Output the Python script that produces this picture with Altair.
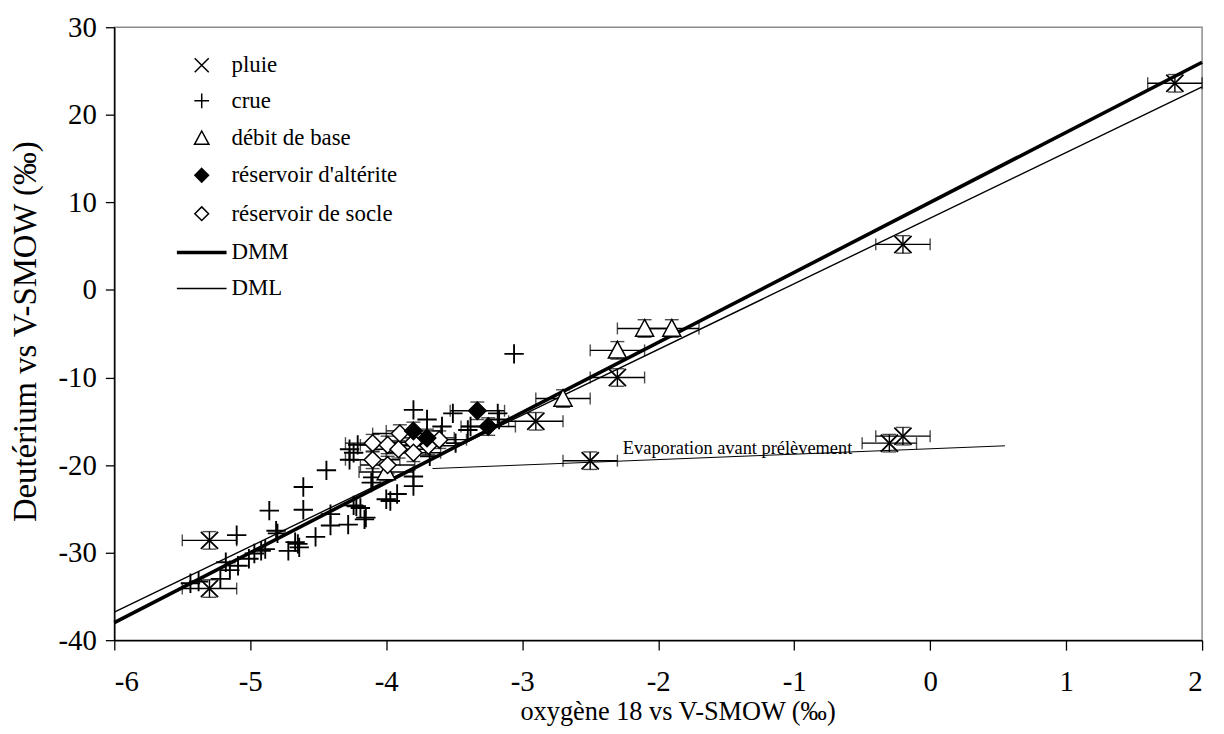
import altair as alt
import pandas as pd

FONT = "Liberation Serif, Times New Roman, serif"

# ---------------- data ----------------
pluie_x = [1.8, -0.2, -0.2, -0.3, -2.5, -2.3, -2.9, -5.3, -5.3]
pluie_y = [23.6, 5.2, -16.7, -17.5, -19.5, -10.0, -15.0, -28.6, -34.1]

crue_x = [-4.44, -4.61, -4.61, -4.86, -5.10, -4.80, -4.41, -4.41, -4.28, -4.22,
          -4.19, -4.15, -4.52, -4.65, -4.64, -4.72, -4.92, -4.97, -5.01, -5.09,
          -5.15, -5.18, -5.22, -5.38, -5.44, -4.81, -4.89, -4.67, -4.16, -4.24,
          -3.97, -4.00, -4.10, -4.27, -4.24, -4.27, -4.21, -3.06, -3.80, -3.70,
          -3.51, -3.38, -3.18, -3.59, -3.80, -3.92, -4.11, -3.80, -3.49, -3.40,
          -3.68, -3.17]
crue_y = [-20.6, -22.5, -25.1, -25.2, -28.0, -27.8, -25.6, -26.9, -26.8, -24.7,
          -24.9, -26.0, -28.2, -29.0, -29.4, -29.8, -29.8, -30.1, -30.7, -31.5,
          -32.0, -31.1, -33.0, -33.3, -33.5, -27.5, -29.6, -28.8, -26.2, -24.6,
          -24.1, -23.9, -21.4, -18.2, -18.6, -19.4, -17.7, -7.3, -13.7, -14.8,
          -14.1, -15.6, -14.1, -15.6, -22.4, -23.3, -22.0, -21.3, -17.5, -16.0,
          -19.0, -14.8]

debit_x = [-2.1, -1.9, -2.3, -2.7, -4.0]
debit_y = [-4.4, -4.4, -6.9, -12.4, -20.8]

alterite_x = [-3.33, -3.25, -3.80, -3.70]
alterite_y = [-13.8, -15.6, -16.1, -16.9]

socle_x = [-4.10, -3.99, -3.90, -3.91, -3.80, -3.80, -3.69, -3.61, -4.10, -3.99]
socle_y = [-17.5, -17.7, -16.4, -18.2, -17.4, -18.6, -17.8, -17.1, -19.4, -20.0]

# error bar half-widths (per mil)
err_x = 0.2
err_y = 1.0

# reference lines
dmm_x = [-6, 2]
dmm_y = [-38, 26]
dml_x = [-6, 2]
dml_y = [-36.8, 23.2]
evap_x = [-3.66, 0.55]
evap_y = [-20.4, -17.8]
evap_label = "Evaporation avant prélèvement"
evap_label_x = [-2.26]
evap_label_y = [-18.7]

legend_labels = ["pluie", "crue", "débit de base", "réservoir d'altérite",
                 "réservoir de socle", "DMM", "DML"]

x_ticks = [-6, -5, -4, -3, -2, -1, 0, 1, 2]
y_ticks = [-40, -30, -20, -10, 0, 10, 20, 30]

x_title = "oxygène 18 vs V-SMOW (‰)"
y_title = "Deutérium vs V-SMOW (‰)"

# ---------------- shapes ----------------
X_SHAPE = "M-1,-1L1,1M-1,1L1,-1"
PLUS_SHAPE = "M-1,0L1,0M0,-1L0,1"
TRI_SHAPE = "M0,-1L1,0.85L-1,0.85Z"
DIA_SHAPE = "M0,-1L1,0L0,1L-1,0Z"

W, H = 1095, 617
xs = alt.Scale(domain=[-6, 2], nice=False, zero=False)
ys = alt.Scale(domain=[-40, 30], nice=False, zero=False)

LBL = "'' + datum.value"

x_axis = alt.Axis(values=x_ticks, grid=False, labelExpr=LBL,
                  labelFont=FONT, labelFontSize=29, labelColor="black",
                  labelPadding=18, tickSize=10, tickColor="black", tickWidth=1.3,
                  domainColor="black", domainWidth=1.5,
                  title=x_title, titleFont=FONT, titleFontSize=26.5,
                  titleFontWeight="normal", titleColor="black",
                  titleX=567, titleY=80, titleAlign="center",
                  titleBaseline="alphabetic", titleAngle=0)
y_axis = alt.Axis(values=y_ticks, grid=False, labelExpr=LBL,
                  labelFont=FONT, labelFontSize=29, labelColor="black",
                  labelPadding=9, tickSize=9, tickColor="black", tickWidth=1.3,
                  domainColor="black", domainWidth=1.5,
                  title=y_title, titleFont=FONT, titleFontSize=33,
                  titleFontWeight="normal", titleColor="black",
                  titleX=-79, titleY=306, titleAlign="center",
                  titleBaseline="alphabetic", titleAngle=270)


def pts(xv, yv):
    return pd.DataFrame({"x": xv, "y": yv})


err_df = pd.concat([pts(pluie_x, pluie_y), pts(debit_x, debit_y),
                    pts(alterite_x, alterite_y), pts(socle_x, socle_y)],
                   ignore_index=True)
err_df["x_lo"] = err_df["x"] - err_x
err_df["x_hi"] = err_df["x"] + err_x
err_df["y_lo"] = err_df["y"] - err_y
err_df["y_hi"] = err_df["y"] + err_y

base_err = alt.Chart(err_df)
hbar = base_err.mark_rule(color="black", strokeWidth=1.4).encode(
    x=alt.X("x_lo:Q", scale=xs, axis=x_axis), x2="x_hi:Q",
    y=alt.Y("y:Q", scale=ys, axis=y_axis))
hcap_l = base_err.mark_tick(orient="vertical", size=12, thickness=1.4, color="black").encode(
    x=alt.X("x_lo:Q", scale=xs), y=alt.Y("y:Q", scale=ys))
hcap_r = base_err.mark_tick(orient="vertical", size=12, thickness=1.4, color="black").encode(
    x=alt.X("x_hi:Q", scale=xs), y=alt.Y("y:Q", scale=ys))
vbar = base_err.mark_rule(color="black", strokeWidth=1.4).encode(
    x=alt.X("x:Q", scale=xs), y=alt.Y("y_lo:Q", scale=ys), y2="y_hi:Q")
vcap_b = base_err.mark_tick(orient="horizontal", size=14, thickness=1.4, color="black").encode(
    x=alt.X("x:Q", scale=xs), y=alt.Y("y_lo:Q", scale=ys))
vcap_t = base_err.mark_tick(orient="horizontal", size=14, thickness=1.4, color="black").encode(
    x=alt.X("x:Q", scale=xs), y=alt.Y("y_hi:Q", scale=ys))


def line(xv, yv, w):
    return alt.Chart(pts(xv, yv)).mark_line(color="black", strokeWidth=w).encode(
        x=alt.X("x:Q", scale=xs), y=alt.Y("y:Q", scale=ys))


dmm = line(dmm_x, dmm_y, 3.6)
dml = line(dml_x, dml_y, 1.4)
evap = line(evap_x, evap_y, 1.0)

evap_text = alt.Chart(pd.DataFrame({"x": evap_label_x, "y": evap_label_y,
                                    "t": [evap_label]})).mark_text(
    font=FONT, fontSize=18.5, align="left", baseline="alphabetic", color="black").encode(
    x=alt.X("x:Q", scale=xs), y=alt.Y("y:Q", scale=ys), text="t:N")


def marks(xv, yv, shape, size, fill, sw=1.5):
    kw = dict(shape=shape, size=size, stroke="black", strokeWidth=sw, opacity=1)
    if fill is None:
        kw.update(filled=False, fillOpacity=0)
    else:
        kw.update(filled=True, fill=fill, fillOpacity=1)
    return alt.Chart(pts(xv, yv)).mark_point(**kw).encode(
        x=alt.X("x:Q", scale=xs), y=alt.Y("y:Q", scale=ys))


m_crue = marks(crue_x, crue_y, PLUS_SHAPE, 380, None, 1.9)
m_pluie = marks(pluie_x, pluie_y, X_SHAPE, 300, None, 1.8)
m_debit = marks(debit_x, debit_y, TRI_SHAPE, 330, "white", 1.5)
m_socle = marks(socle_x, socle_y, DIA_SHAPE, 290, "white", 1.5)
m_alt = marks(alterite_x, alterite_y, DIA_SHAPE, 310, "black", 1.5)

# ---------------- legend (drawn inside plot) ----------------
leg_rows = [38.3, 74, 111.7, 149, 187.7, 226.7, 263]
leg_mx = 88
leg_tx = 118
leg_shapes = [(X_SHAPE, 200, None), (PLUS_SHAPE, 220, None), (TRI_SHAPE, 210, "white"),
              (DIA_SHAPE, 190, "black"), (DIA_SHAPE, 190, "white")]
one = pd.DataFrame({"k": [0]})
legend_layers = []
for i, (shp, sz, fill) in enumerate(leg_shapes):
    kw = dict(shape=shp, size=sz, stroke="black", strokeWidth=1.5, opacity=1)
    if fill is None:
        kw.update(filled=False, fillOpacity=0)
    else:
        kw.update(filled=True, fill=fill, fillOpacity=1)
    legend_layers.append(alt.Chart(one).mark_point(**kw).encode(
        x=alt.value(leg_mx), y=alt.value(leg_rows[i])))
for i, w in [(5, 3.6), (6, 1.4)]:
    legend_layers.append(alt.Chart(one).mark_rule(color="black", strokeWidth=w).encode(
        x=alt.value(63), x2=alt.value(113), y=alt.value(leg_rows[i])))
for i, lab in enumerate(legend_labels):
    legend_layers.append(alt.Chart(pd.DataFrame({"t": [lab]})).mark_text(
        font=FONT, fontSize=23, align="left", baseline="middle", color="black").encode(
        x=alt.value(leg_tx), y=alt.value(leg_rows[i]), text="t:N"))

chart = alt.layer(
    hbar, dmm, dml, evap, hcap_l, hcap_r, vbar, vcap_b, vcap_t,
    m_crue, m_pluie, m_debit, m_socle, m_alt, evap_text, *legend_layers
).properties(
    width=W, height=H,
    padding={"left": 107, "top": 17, "right": 14, "bottom": 84},
    autosize=alt.AutoSizeParams(type="none"),
    background="white",
).configure_view(stroke="#8c8c8c", strokeWidth=1.5)

chart.save("out.html", embed_options={"renderer": "svg", "actions": False})
